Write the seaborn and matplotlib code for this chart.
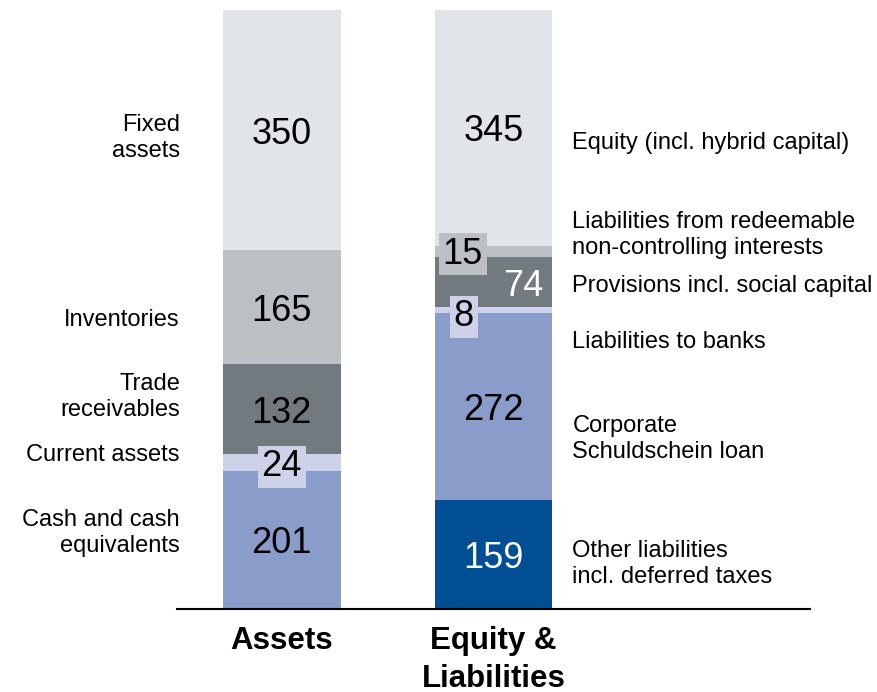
import matplotlib
matplotlib.use("Agg")
import matplotlib.pyplot as plt
import seaborn as sns
import pandas as pd

categories = ["Assets", "Equity &\nLiabilities"]

asset_labels = ["Cash and cash\nequivalents", "Current assets", "Trade\nreceivables",
                "Inventories", "Fixed\nassets"]
asset_values = [201, 24, 132, 165, 350]
asset_colors = ["#8a9cca", "#cdd2e8", "#72797f", "#bcc0c4", "#e1e4e8"]

liab_labels = ["Other liabilities\nincl. deferred taxes", "Corporate\nSchuldschein loan",
               "Liabilities to banks", "Provisions incl. social capital",
               "Liabilities from redeemable\nnon-controlling interests",
               "Equity (incl. hybrid capital)"]
liab_values = [159, 272, 8, 74, 15, 345]
liab_colors = ["#004f94", "#8a9cca", "#cdd2e8", "#72797f", "#bcc0c4", "#e1e4e8"]

sns.set_theme(style="white")
plt.rcParams["font.family"] = ["Liberation Sans", "DejaVu Sans"]
plt.rcParams["text.color"] = "black"

fig = plt.figure(figsize=(8.77, 6.92), dpi=100)
ax = fig.add_axes([177 / 877, 1 - 609 / 692, 633 / 877, 599 / 692])

bar_w = 118 / 212


def stack(cat, values, colors):
    df = pd.DataFrame({"value": values, "color": colors})
    df["top"] = df["value"].cumsum()
    df["bottom"] = df["top"] - df["value"]
    # draw cumulative totals from the top down so each layer covers the next
    for _, row in df[::-1].iterrows():
        sns.barplot(x=[cat], y=[row["top"]], order=categories, color=row["color"],
                    width=bar_w, saturation=1, ax=ax, linewidth=0)
    return df


a = stack(categories[0], asset_values, asset_colors)
l = stack(categories[1], liab_values, liab_colors)

num_fs = 26
side_fs = 17


def boxed(color):
    return dict(boxstyle="square,pad=0.1", fc=color, ec="none")


# value labels, assets
for _, row in a.iterrows():
    mid = (row["top"] + row["bottom"]) / 2
    box = boxed(row["color"]) if row["value"] < 50 else None
    ax.text(0, mid, f"{row['value']:d}", ha="center", va="center_baseline",
            fontsize=num_fs, color="black", bbox=box)

# value labels, equity & liabilities
for _, row in l.iterrows():
    mid = (row["top"] + row["bottom"]) / 2
    x, box, col = 1, None, "black"
    if row["value"] == 15:
        x, mid = 0.855, mid + 2
        box = boxed(row["color"])
    elif row["value"] == 8:
        x, mid = 0.86, mid - 4
        box = boxed(row["color"])
    elif row["value"] == 74:
        x, col = 1.14, "white"
    elif row["value"] == 159:
        col = "white"
    ax.text(x, mid, f"{row['value']:d}", ha="center", va="center_baseline",
            fontsize=num_fs, color=col, bbox=box)

px = 599 / 872  # pixels per unit


def ypix(p):
    return (609 - p) / px


# side labels
left_pos = [533, 455, 397, 320, 138]
for lab, yp in zip(asset_labels, left_pos):
    ax.text((180 - 282) / 212, ypix(yp), lab, ha="right", va="center",
            fontsize=side_fs, linespacing=1.25)

right_pos = [564, 439, 342, 286, 235, 143]
for lab, yp in zip(liab_labels, right_pos):
    ax.text((573 - 282) / 212, ypix(yp), lab, ha="left", va="center",
            fontsize=side_fs, linespacing=1.25)

ax.set_xlim(-0.495, 2.495)
ax.set_ylim(0, 872)
ax.set_yticks([])
ax.set_xticks([0, 1])
ax.set_xticklabels(categories, fontsize=22.5, fontweight="bold", linespacing=1.35,
                   color="black")
ax.tick_params(axis="x", length=0, pad=12)
ax.set_xlabel("")
ax.set_ylabel("")
for s in ["top", "left", "right"]:
    ax.spines[s].set_visible(False)
ax.spines["bottom"].set_color("black")
ax.spines["bottom"].set_linewidth(1.5)

fig.savefig("out.png", dpi=100)
